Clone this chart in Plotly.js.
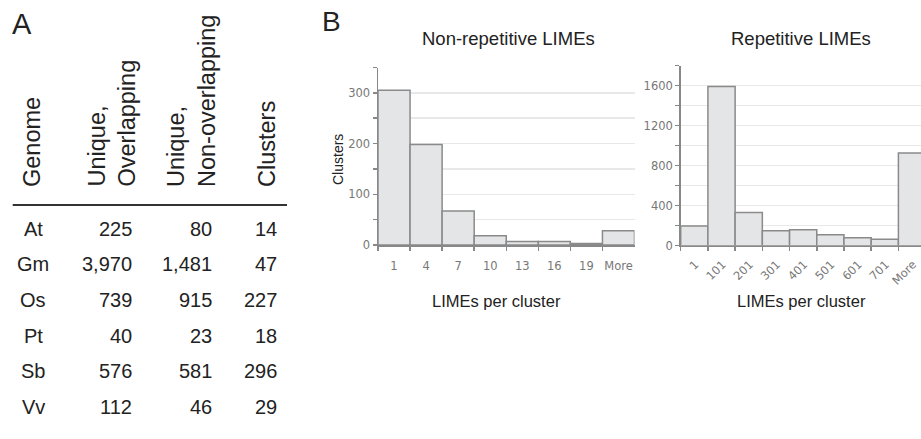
<!DOCTYPE html>
<html>
<head>
<meta charset="utf-8">
<script src="https://cdn.plot.ly/plotly-3.0.1.min.js"></script>
<style>html,body{margin:0;padding:0;background:#fff;}#chart{width:921px;height:439px;}</style>
</head>
<body>
<div id="chart"></div>
<script>
// ---- Panel A table data ----
const genomes = ['At', 'Gm', 'Os', 'Pt', 'Sb', 'Vv'];
const uniqueOverlapping = [225, 3970, 739, 40, 576, 112];
const uniqueNonOverlapping = [80, 1481, 915, 23, 581, 46];
const clusterCounts = [14, 47, 227, 18, 296, 29];
const tableHeaders = ['Genome', 'Unique,<br>Overlapping', 'Unique,<br>Non-overlapping', 'Clusters'];

// ---- Panel B histogram data ----
const nonRepCategories = ['1', '4', '7', '10', '13', '16', '19', 'More'];
const nonRepClusters = [305, 198, 67, 18, 7, 7, 3, 28];
const repCategories = ['1', '101', '201', '301', '401', '501', '601', '701', 'More'];
const repClusters = [196, 1592, 333, 150, 160, 110, 80, 64, 926];
const nonRepYTicks = [0, 50, 100, 150, 200, 250, 300, 350];
const repYTicks = [0, 200, 400, 600, 800, 1000, 1200, 1400, 1600, 1800];

const W = 921, H = 439;
const px = x => x / W;
const py = y => 1 - y / H;
const fmt = v => v.toLocaleString('en-US');

const barStyle = {color: '#e4e5e7', line: {color: '#8a8a8a', width: 1.5}};
const traces = [
  {type: 'bar', x: nonRepCategories, y: nonRepClusters, xaxis: 'x', yaxis: 'y',
   marker: barStyle, hoverinfo: 'x+y'},
  {type: 'bar', x: repCategories, y: repClusters, xaxis: 'x2', yaxis: 'y2',
   marker: barStyle, hoverinfo: 'x+y'}
];

const tickFont = {family: 'DejaVu Sans, Verdana, sans-serif', size: 11.5, color: '#777'};
const textFont = (size) => ({family: 'Liberation Sans, Arial, sans-serif', size: size, color: '#222'});

const xCommon = {type: 'category', showline: true, linecolor: '#888', linewidth: 1.5,
  ticks: 'outside', tickson: 'boundaries', ticklen: 4, tickcolor: '#888', tickwidth: 1.5,
  showgrid: false, zeroline: false, tickfont: tickFont, fixedrange: true};
const yCommon = {showline: true, linecolor: '#888', linewidth: 1.5,
  ticks: 'outside', ticklen: 4, tickcolor: '#888', tickwidth: 1.5,
  showgrid: true, gridcolor: '#e8e8e8', gridwidth: 1.5, zeroline: false,
  tickfont: tickFont, fixedrange: true};

const annotations = [];
// Panel letters
annotations.push({text: 'A', x: px(10), y: py(24), xref: 'paper', yref: 'paper',
  xanchor: 'left', yanchor: 'middle', showarrow: false, font: textFont(29)});
annotations.push({text: 'B', x: px(320), y: py(22), xref: 'paper', yref: 'paper',
  xanchor: 'left', yanchor: 'middle', showarrow: false, font: textFont(28)});

// Table headers (rotated)
const headerX = [32, 112, 191, 267];
tableHeaders.forEach((h, i) => {
  annotations.push({text: h, x: px(headerX[i]), y: py(189), xref: 'paper', yref: 'paper',
    xanchor: 'center', yanchor: 'bottom', textangle: -90, align: 'left',
    showarrow: false, font: textFont(23.5)});
});
// Table body
const rowY0 = 228.5, rowStep = 35.7;
genomes.forEach((g, i) => {
  const yy = py(rowY0 + i * rowStep);
  annotations.push({text: g, x: px(33), y: yy, xref: 'paper', yref: 'paper',
    xanchor: 'center', yanchor: 'middle', showarrow: false, font: textFont(20)});
  annotations.push({text: fmt(uniqueOverlapping[i]), x: px(134), y: yy, xref: 'paper', yref: 'paper',
    xanchor: 'right', yanchor: 'middle', showarrow: false, font: textFont(20)});
  annotations.push({text: fmt(uniqueNonOverlapping[i]), x: px(214), y: yy, xref: 'paper', yref: 'paper',
    xanchor: 'right', yanchor: 'middle', showarrow: false, font: textFont(20)});
  annotations.push({text: fmt(clusterCounts[i]), x: px(279), y: yy, xref: 'paper', yref: 'paper',
    xanchor: 'right', yanchor: 'middle', showarrow: false, font: textFont(20)});
});

// Histogram titles
annotations.push({text: 'Non-repetitive LIMEs', x: px(508), y: py(38), xref: 'paper', yref: 'paper',
  xanchor: 'center', yanchor: 'middle', showarrow: false, font: textFont(18.5)});
annotations.push({text: 'Repetitive LIMEs', x: px(801), y: py(38), xref: 'paper', yref: 'paper',
  xanchor: 'center', yanchor: 'middle', showarrow: false, font: textFont(18.5)});
annotations.push({text: 'LIMEs per cluster', x: px(496), y: py(301), xref: 'paper', yref: 'paper',
  xanchor: 'center', yanchor: 'middle', showarrow: false, font: textFont(16.5)});
annotations.push({text: 'LIMEs per cluster', x: px(801), y: py(301), xref: 'paper', yref: 'paper',
  xanchor: 'center', yanchor: 'middle', showarrow: false, font: textFont(16.5)});
annotations.push({text: 'Clusters', x: px(338), y: py(160), xref: 'paper', yref: 'paper',
  xanchor: 'center', yanchor: 'middle', textangle: -90, showarrow: false, font: textFont(14)});

const layout = {
  width: W, height: H,
  margin: {l: 0, r: 0, t: 0, b: 0},
  paper_bgcolor: '#fff', plot_bgcolor: '#fff',
  showlegend: false, bargap: 0,
  font: {family: 'Liberation Sans, Arial, sans-serif'},
  xaxis: Object.assign({}, xCommon, {domain: [px(378), px(634.5)], anchor: 'y', range: [-0.5, 7.5],
    tickangle: 0, ticklabelstandoff: 10}),
  yaxis: Object.assign({}, yCommon, {domain: [py(245), py(67.5)], anchor: 'x', range: [0, 350],
    tickvals: nonRepYTicks, ticktext: nonRepYTicks.map(v => v % 100 === 0 ? String(v) : '')}),
  xaxis2: Object.assign({}, xCommon, {domain: [px(680.7), 1], anchor: 'y2', range: [-0.5, 8.33],
    tickangle: -45, ticklabelstandoff: 6, ticklabelshift: 1}),
  yaxis2: Object.assign({}, yCommon, {domain: [py(245.7), py(65.7)], anchor: 'x2', range: [0, 1800],
    tickvals: repYTicks, ticktext: repYTicks.map(v => v % 400 === 0 ? String(v) : '')}),
  shapes: [{type: 'line', xref: 'paper', yref: 'paper', x0: px(12.7), x1: px(287), y0: py(205), y1: py(205),
    line: {color: '#333', width: 2}}],
  annotations: annotations
};

Plotly.newPlot('chart', traces, layout, {displayModeBar: false, staticPlot: true});
</script>
</body>
</html>
